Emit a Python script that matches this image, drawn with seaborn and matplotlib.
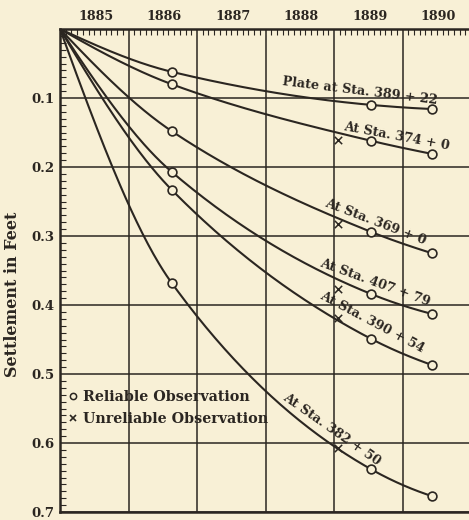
import numpy as np
import pandas as pd
import matplotlib
matplotlib.use("Agg")
import matplotlib.pyplot as plt
from matplotlib.lines import Line2D
from matplotlib.ticker import FixedLocator
import seaborn as sns

# ---------------- data ----------------
start_year = 1885.0
obs_years = [1886.63, 1889.54, 1890.43]
unrel_year = 1889.06

stations = ["Plate at Sta. 389 + 22", "At Sta. 374 + 0", "At Sta. 369 + 0",
            "At Sta. 407 + 79", "At Sta. 390 + 54", "At Sta. 382 + 50"]
reliable = [
    [0.062, 0.110, 0.116],
    [0.080, 0.162, 0.181],
    [0.148, 0.294, 0.325],
    [0.207, 0.384, 0.413],
    [0.233, 0.449, 0.487],
    [0.368, 0.638, 0.677],
]
unreliable = [None, 0.161, 0.283, 0.377, 0.419, 0.607]

year_labels = ["1885", "1886", "1887", "1888", "1889", "1890"]
y_ticks = [0.1, 0.2, 0.3, 0.4, 0.5, 0.6, 0.7]
y_ticklabels = ["0.1", "0.2", "0.3", "0.4", "0.5", "0.6", "0.7"]

# label placement (layout only)
label_pos = [(1889.38, 0.090, -7), (1889.92, 0.156, -10.5), (1889.61, 0.280, -21),
             (1889.60, 0.368, -20), (1889.56, 0.425, -28), (1888.97, 0.581, -35)]

BG = "#F8F0D6"
INK = "#2B2621"


def pchip(x, y, xn):
    x = np.asarray(x, float); y = np.asarray(y, float)
    h = np.diff(x); d = np.diff(y) / h
    n = len(x); m = np.zeros(n)
    for k in range(1, n - 1):
        if d[k - 1] * d[k] > 0:
            w1 = 2 * h[k] + h[k - 1]; w2 = h[k] + 2 * h[k - 1]
            m[k] = (w1 + w2) / (w1 / d[k - 1] + w2 / d[k])
    def endslope(h0, h1, d0, d1):
        s = ((2 * h0 + h1) * d0 - h0 * d1) / (h0 + h1)
        if np.sign(s) != np.sign(d0):
            s = 0.0
        elif np.sign(d0) != np.sign(d1) and abs(s) > abs(3 * d0):
            s = 3 * d0
        return s
    m[0] = endslope(h[0], h[1], d[0], d[1])
    m[-1] = endslope(h[-1], h[-2], d[-1], d[-2])
    idx = np.clip(np.searchsorted(x, xn) - 1, 0, n - 2)
    t = (xn - x[idx]) / h[idx]
    h00 = 2 * t**3 - 3 * t**2 + 1; h10 = t**3 - 2 * t**2 + t
    h01 = -2 * t**3 + 3 * t**2; h11 = t**3 - t**2
    return h00 * y[idx] + h10 * h[idx] * m[idx] + h01 * y[idx + 1] + h11 * h[idx] * m[idx + 1]


sns.set_theme(style="white")
plt.rcParams["font.family"] = ["DejaVu Serif"]
plt.rcParams["font.weight"] = "bold"

fig = plt.figure(figsize=(4.69, 5.20), dpi=100, facecolor=BG)
ax = fig.add_axes([60 / 469, 8 / 520, 1 - 60 / 469, (512 - 29) / 520])
ax.set_facecolor(BG)

# curves
rows = []
for name, vals in zip(stations, reliable):
    xs = [start_year] + obs_years
    ys = [0.0] + vals
    xn = np.linspace(xs[0], xs[-1], 200)
    yn = pchip(xs, ys, xn)
    rows.append(pd.DataFrame({"year": xn, "settle": yn, "station": name}))
curves = pd.concat(rows, ignore_index=True)
sns.lineplot(data=curves, x="year", y="settle", units="station", estimator=None,
             sort=False, color=INK, linewidth=1.5, ax=ax, zorder=3)

pts = pd.DataFrame([(y, v, s) for s, vals in zip(stations, reliable) for y, v in zip(obs_years, vals)],
                   columns=["year", "settle", "station"])
sns.scatterplot(data=pts, x="year", y="settle", marker="o", s=40, facecolor=BG,
                edgecolor=INK, linewidth=1.2, ax=ax, zorder=4)

unrel = pd.DataFrame([(unrel_year, v) for v in unreliable if v is not None], columns=["year", "settle"])
sns.scatterplot(data=unrel, x="year", y="settle", marker="x", s=28, color=INK,
                linewidth=1.1, ax=ax, zorder=4)

for name, (lx, ly, rot) in zip(stations, label_pos):
    ax.text(lx, ly, name, rotation=rot, rotation_mode="anchor", ha="center", va="center",
            fontsize=9.2, fontweight="bold", color=INK, zorder=5)

# axes
ax.set_xlim(1885.0, 1890.97)
ax.set_ylim(0.7, 0.0)
years = [int(s) for s in year_labels]
ax.xaxis.set_major_locator(FixedLocator(years))
ax.xaxis.set_minor_locator(FixedLocator(np.arange(1885, 1891, 1 / 12)))
ax.set_xticklabels([])
ax.tick_params(axis="x", which="major", length=0, top=False, bottom=False)
ax.tick_params(axis="x", which="minor", direction="in", length=4.5, width=0.8,
               top=True, bottom=False, color=INK)
for yr, lab in zip(years, year_labels):
    ax.text(yr + 0.52, 1.012, lab, transform=ax.get_xaxis_transform(), ha="center",
            va="bottom", fontsize=9.2, fontweight="bold", color=INK)

ax.set_yticks(y_ticks)
ax.set_yticklabels(y_ticklabels)
ax.yaxis.set_minor_locator(FixedLocator([i / 100 for i in range(1, 70) if i % 10]))
ax.tick_params(axis="y", which="major", length=0, pad=4, labelsize=9.5, labelcolor=INK)
ax.tick_params(axis="y", which="minor", direction="in", length=4.5, width=0.8,
               left=True, color=INK)
for lab in ax.get_yticklabels():
    lab.set_fontweight("bold")

ax.grid(True, which="major", color=INK, linewidth=1.1)
ax.set_axisbelow(True)
for side in ["left", "top", "bottom"]:
    ax.spines[side].set_color(INK)
    ax.spines[side].set_linewidth(1.8)
ax.spines["right"].set_visible(False)

ax.set_xlabel("")
ax.set_ylabel("Settlement in Feet", fontsize=11.5, fontweight="bold", color=INK)
ax.yaxis.set_label_coords(-0.095, 0.45)

handles = [Line2D([], [], marker="o", ls="", mfc=BG, mec=INK, ms=4.5, mew=1.1),
           Line2D([], [], marker="x", ls="", color=INK, ms=5, mew=1.2)]
leg = ax.legend(handles, ["Reliable Observation", "Unreliable Observation"],
                loc="upper left", bbox_to_anchor=(0.0, 0.27), frameon=False,
                handlelength=0.6, handletextpad=0.4, borderaxespad=0.2,
                labelspacing=0.55, prop={"family": "DejaVu Serif", "weight": "bold", "size": 10.3})
for t in leg.get_texts():
    t.set_color(INK)

fig.savefig("out.png", dpi=100, facecolor=BG)
